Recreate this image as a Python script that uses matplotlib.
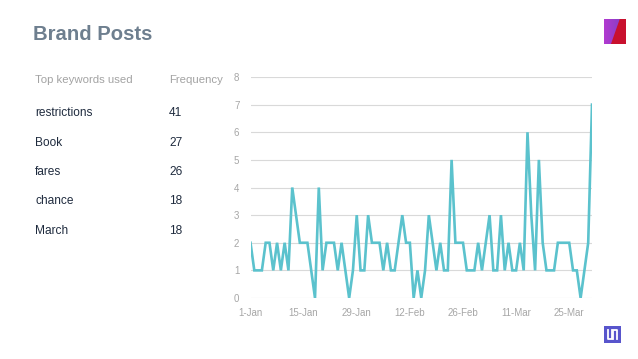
import matplotlib
matplotlib.use("Agg")
import matplotlib.pyplot as plt
import matplotlib.patches as mpatches
import numpy as np
import pandas as pd

# ---- data ----
title = "Brand Posts"
kw_header = "Top keywords used"
freq_header = "Frequency"
keywords = ["restrictions", "Book", "fares", "chance", "March"]
frequencies = [41, 27, 26, 18, 18]

start_date = "2020-01-01"
daily_posts = [2, 1, 1, 1, 2, 2, 1, 2, 1, 2, 1, 4, 3, 2, 2, 2, 1, 0, 4, 1,
               2, 2, 2, 1, 2, 1, 0, 1, 3, 1, 1, 3, 2, 2, 2, 1, 2, 1, 1, 2,
               3, 2, 2, 0, 1, 0, 1, 3, 2, 1, 2, 1, 1, 5, 2, 2, 2, 1, 1, 1,
               2, 1, 2, 3, 1, 1, 3, 1, 2, 1, 1, 2, 1, 6, 3, 1, 5, 2, 1, 1,
               1, 2, 2, 2, 2, 1, 1, 0, 1, 2, 7]
tick_labels = ["1-Jan", "15-Jan", "29-Jan", "12-Feb", "26-Feb", "11-Mar", "25-Mar"]
y_ticks = [0, 1, 2, 3, 4, 5, 6, 7, 8]

dates = pd.date_range(start_date, periods=len(daily_posts), freq="D")

W, H = 638, 359
fig = plt.figure(figsize=(W / 100, H / 100), dpi=100)
fig.patch.set_facecolor("white")

def fx(px):
    return px / W

def fy(py):
    return 1 - py / H

FONT = ["Liberation Sans", "DejaVu Sans"]

# title
fig.text(fx(33), fy(35), title, fontsize=14.6, fontweight="bold",
         color="#6e7f8f", family=FONT, va="center", ha="left")

# table
fig.text(fx(35), fy(80), kw_header, fontsize=8.2, color="#a3a3a3", family=FONT,
         va="center", ha="left")
fig.text(fx(169), fy(80), freq_header, fontsize=8.2, color="#a3a3a3", family=FONT,
         va="center", ha="left")
row_y = [113, 142.5, 172, 201.5, 231]
for k, f, yy in zip(keywords, frequencies, row_y):
    fig.text(fx(35), fy(yy), k, fontsize=8.6, color="#1f2b3e", family=FONT,
             va="center", ha="left")
    fig.text(fx(169), fy(yy), str(f), fontsize=8.6, color="#1f2b3e", family=FONT,
             va="center", ha="left")

# chart
ax = fig.add_axes([fx(250.5), fy(298), fx(592) - fx(250.5), fy(77) - fy(298)])
ax.plot(dates, daily_posts, color="#5bc2cd", linewidth=1.9, solid_joinstyle="miter")
ax.set_xlim(dates[0], dates[-1])
ax.set_ylim(y_ticks[0], y_ticks[-1])
ax.set_yticks(y_ticks)
ax.set_yticklabels([str(v) for v in y_ticks])
ax.set_xticks(dates[::14])
ax.set_xticklabels(tick_labels)
ax.grid(axis="y", color="#d9d9d9", linewidth=0.8)
ax.set_axisbelow(True)
for s in ax.spines.values():
    s.set_visible(False)
ax.tick_params(axis="both", length=0, colors="#a6a6a6", labelsize=7)
ax.tick_params(axis="y", pad=8)
ax.tick_params(axis="x", pad=7)
for lab in ax.get_xticklabels() + ax.get_yticklabels():
    lab.set_family(FONT)

# top-right logo (approximation)
lax = fig.add_axes([fx(604), fy(44), fx(22), fy(19) - fy(44)])
grad = np.linspace(0, 1, 50)[None, :] * np.ones((50, 1))
lax.imshow(grad, cmap=matplotlib.colors.LinearSegmentedColormap.from_list("g", ["#b23ad0", "#7b3fc4"]),
           extent=[0, 1, 0, 1], aspect="auto")
lax.add_patch(mpatches.Polygon([[0.35, 0], [0.75, 1.0], [1, 1.0], [1, 0]], color="#c8102e"))
lax.set_xlim(0, 1); lax.set_ylim(0, 1); lax.axis("off")

# bottom-right logo (approximation)
bax = fig.add_axes([fx(604), fy(343), fx(17), fy(326) - fy(343)])
bax.add_patch(mpatches.Rectangle((0, 0), 1, 1, color="#5855cc"))
bax.plot([0.22, 0.22, 0.48, 0.48], [0.75, 0.25, 0.25, 0.75], color="white", lw=1.3)
bax.plot([0.52, 0.52, 0.78, 0.78], [0.25, 0.75, 0.75, 0.25], color="white", lw=1.3)
bax.set_xlim(0, 1); bax.set_ylim(0, 1); bax.axis("off")

fig.savefig("out.png", dpi=100, facecolor="white")
